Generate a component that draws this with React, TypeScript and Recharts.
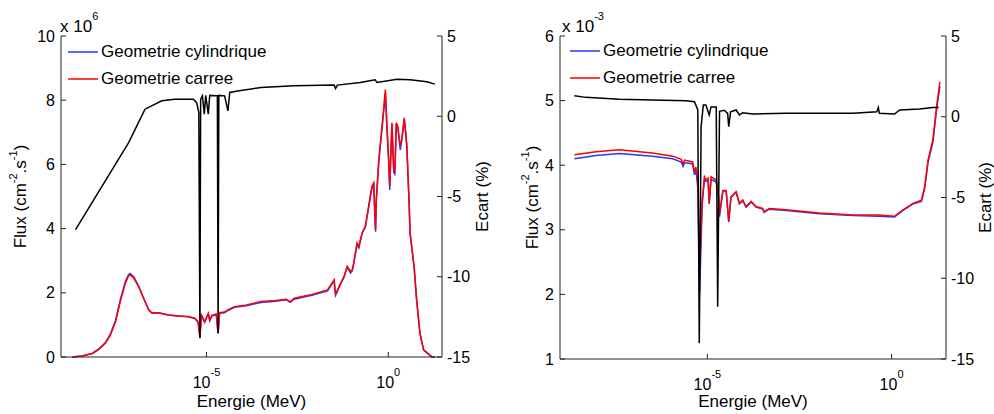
import { ComposedChart, Line, XAxis, YAxis, Legend } from "recharts";

const FONT = "'Liberation Sans', Arial, Helvetica, sans-serif";

// energies are stored as log10(E / MeV)
// left panel : flux x 1e6
const leftFluxE = [
	-8.69, -8.42, -8.14, -7.96, -7.78, -7.64, -7.5, -7.37, -7.23, -7.14, -7.1, -7.0, -6.87, -6.73,
	-6.59, -6.5, -6.32, -6.05, -5.77, -5.5, -5.32, -5.23, -5.18, -5.14, -5.05, -4.95, -4.91, -4.85,
	-4.73, -4.68, -4.64, -4.5, -4.41, -4.23, -3.9, -3.5, -3.1, -2.8, -2.7, -2.59, -2.1, -1.67,
	-1.49, -1.45, -1.31, -1.22, -1.13, -1.04, -0.99, -0.95, -0.86, -0.81, -0.72, -0.63, -0.54, -0.49,
	-0.45, -0.4, -0.37, -0.35, -0.33, -0.26, -0.17, -0.08, -0.04, 0.01, 0.04, 0.08, 0.1, 0.15,
	0.18, 0.22, 0.26, 0.33, 0.37, 0.44, 0.48, 0.51, 0.57, 0.6, 0.71, 0.78, 0.87, 0.97,
	1.19, 1.28,
];
const leftCarree = [
	0, 0.03, 0.11, 0.24, 0.43, 0.69, 1.1, 1.73, 2.3, 2.53, 2.56, 2.46, 2.2, 1.83,
	1.47, 1.37, 1.38, 1.31, 1.28, 1.26, 1.21, 1.1, 0.63, 1.31, 1.1, 1.36, 1.15, 1.3,
	1.34, 0.75, 1.38, 1.4, 1.47, 1.57, 1.62, 1.73, 1.76, 1.8, 1.72, 1.83, 1.95, 2.09,
	2.4, 1.95, 2.3, 2.5, 2.82, 2.67, 2.72, 2.93, 3.55, 3.45, 3.87, 4.07, 4.7, 5.06,
	5.32, 5.43, 4.49, 3.97, 4.91, 6.16, 7.2, 8.33, 7.3, 6.16, 5.32, 6.66, 7.3, 5.84,
	5.74, 7.3, 7.19, 6.57, 6.78, 7.45, 6.98, 6.57, 4.9, 3.86, 2.82, 1.78, 0.74, 0.22,
	0.01, 0,
];
const leftCyl = [
	0, 0.03, 0.11, 0.25, 0.45, 0.72, 1.14, 1.78, 2.35, 2.57, 2.6, 2.5, 2.22, 1.84,
	1.47, 1.37, 1.38, 1.31, 1.28, 1.25, 1.2, 1.08, 0.6, 1.3, 1.08, 1.35, 1.13, 1.28,
	1.32, 0.73, 1.36, 1.38, 1.45, 1.55, 1.6, 1.7, 1.74, 1.78, 1.7, 1.8, 1.92, 2.06,
	2.38, 1.92, 2.28, 2.48, 2.8, 2.62, 2.68, 2.9, 3.5, 3.4, 3.85, 4.05, 4.65, 5.0,
	5.25, 5.35, 4.4, 3.9, 4.85, 6.1, 7.15, 8.2, 7.2, 6.1, 5.2, 6.6, 7.25, 5.75,
	5.7, 7.25, 7.15, 6.45, 6.75, 7.4, 6.95, 6.55, 4.88, 3.84, 2.8, 1.77, 0.74, 0.22,
	0.01, 0,
];
const leftEcartE = [
	-8.6, -7.87, -7.14, -6.69, -6.23, -5.87, -5.36, -5.27, -5.21, -5.18, -5.16, -5.11, -5.06, -5.02,
	-4.95, -4.91, -4.73, -4.7, -4.68, -4.66, -4.5, -4.41, -4.36, -4.14, -3.5, -2.59, -1.49, -1.45,
	-1.4, -0.77, -0.36, -0.31, 0.24, 0.6, 1.06, 1.28,
];
const leftEcart = [
	-7.06, -4.36, -1.64, 0.44, 0.96, 1.06, 1.06, 0.85, 0.23, -13.83, 1.06, 1.27, 0.13, 1.3,
	0.13, 1.3, 1.27, 1.27, -13.5, 1.3, 1.27, 0.33, 1.48, 1.58, 1.79, 1.9, 1.94, 1.73,
	1.94, 2.1, 2.27, 2.1, 2.31, 2.27, 2.15, 2.0,
];

// right panel : flux x 1e-3
const rightFluxE = [
	-8.61, -8.02, -7.39, -6.49, -5.94, -5.71, -5.66, -5.62, -5.4, -5.35, -5.31, -5.26, -5.21, -5.14,
	-5.08, -5.04, -4.98, -4.95, -4.9, -4.76, -4.7, -4.67, -4.58, -4.49, -4.42, -4.36, -4.22, -4.13,
	-4.04, -3.95, -3.81, -3.68, -3.5, -3.46, -3.32, -2.86, -1.96, -1.05, -0.37, 0.08, 0.31, 0.58,
	0.81, 0.9, 0.99, 1.12, 1.22, 1.31,
];
const rightCarree = [
	4.16, 4.21, 4.24, 4.19, 4.14, 4.09, 4.02, 4.08, 4.05, 3.9, 3.97, 3.77, 2.41, 3.46,
	3.82, 3.77, 3.8, 3.41, 3.82, 3.77, 3.56, 3.25, 3.61, 3.61, 3.13, 3.51, 3.59, 3.41,
	3.46, 3.36, 3.44, 3.36, 3.33, 3.28, 3.33, 3.31, 3.26, 3.23, 3.23, 3.21, 3.31, 3.41,
	3.46, 3.67, 4.08, 4.39, 4.9, 5.29,
];
const rightCyl = [
	4.1, 4.15, 4.18, 4.14, 4.1, 4.05, 3.98, 4.04, 4.02, 3.85, 3.93, 3.65, 2.02, 3.4,
	3.78, 3.75, 3.76, 3.4, 3.78, 3.74, 3.5, 3.2, 3.6, 3.6, 3.12, 3.5, 3.58, 3.4,
	3.45, 3.35, 3.43, 3.35, 3.32, 3.27, 3.32, 3.3, 3.25, 3.22, 3.21, 3.2, 3.3, 3.4,
	3.44, 3.65, 4.05, 4.35, 4.85, 5.22,
];
const rightEcartE = [
	-8.61, -8.3, -7.39, -6.49, -5.58, -5.35, -5.26, -5.22, -5.17, -5.11, -5.04, -4.95, -4.9, -4.76,
	-4.72, -4.67, -4.54, -4.45, -4.42, -4.37, -4.22, -4.13, -4.04, -3.77, -2.86, -1.05, -0.4, -0.36,
	-0.33, 0.08, 0.22, 0.76, 1.12, 1.28,
];
const rightEcart = [
	1.3, 1.2, 1.08, 1.04, 0.99, 0.93, 0.42, -14.03, -0.61, 0.73, 0.73, 0.11, 0.61, 0.61,
	-11.76, 0.34, 0.4, 0.21, -0.61, 0.3, 0.42, 0.11, 0.25, 0.17, 0.21, 0.21, 0.31, 0.58,
	0.21, 0.17, 0.42, 0.48, 0.58, 0.58,
];

const legendNames = ["Geometrie cylindrique", "Geometrie carree"];
const xTicks = [-5, 0];
const ecartTicks = [-15, -10, -5, 0, 5];
const leftFluxTicks = [0, 2, 4, 6, 8, 10];
const rightFluxTicks = [1, 2, 3, 4, 5, 6];

const toPoints = (xs: number[], ys: number[]) => xs.map((x, i) => ({ x, y: ys[i] }));

const PowTick = (props: any) => {
	const { x, y, payload } = props;
	return (
		<text x={x} y={y} textAnchor="middle" fontSize={16} fontFamily={FONT} fill="#000">
			10
			<tspan dy={-12} fontSize={11}>
				{String(payload.value)}
			</tspan>
		</text>
	);
};

const renderLegend = (props: any) => {
	const items = (props.payload || []).filter((e: any) => legendNames.includes(e.value));
	items.sort((a: any, b: any) => legendNames.indexOf(a.value) - legendNames.indexOf(b.value));
	return (
		<div style={{ fontFamily: FONT, fontSize: 17, color: "#000" }}>
			{items.map((entry: any) => (
				<div key={entry.value} style={{ display: "flex", alignItems: "center", height: 27 }}>
					<svg width={30} height={4}>
						<line x1={0} y1={2} x2={30} y2={2} stroke={entry.color} strokeWidth={1.5} />
					</svg>
					<span style={{ marginLeft: 3, whiteSpace: "nowrap" }}>{entry.value}</span>
				</div>
			))}
		</div>
	);
};

type PanelProps = {
	fluxE: number[];
	cyl: number[];
	carree: number[];
	ecartE: number[];
	ecart: number[];
	fluxDomain: [number, number];
	fluxTicks: number[];
	exponent: string;
	width: number;
	leftW: number;
	rightW: number;
	plotTop: number;
	plotBottom: number;
	fluxLabelX: number;
	ecartLabelX: number;
	multX: number;
	legendLeft: number;
	legendTop: number;
};

const Panel = (p: PanelProps) => {
	const H = 414;
	const midY = (p.plotTop + p.plotBottom) / 2;
	const midX = (p.leftW + p.width - p.rightW) / 2;
	const tickStyle = { fill: "#000", fontSize: 16, fontFamily: FONT };

	const fluxLabel = () => (
		<g>
			<text
				x={p.fluxLabelX}
				y={midY}
				transform={`rotate(-90 ${p.fluxLabelX} ${midY})`}
				textAnchor="middle"
				dominantBaseline="central"
				fontSize={17}
				fontFamily={FONT}
				fill="#000"
			>
				Flux (cm
				<tspan dy={-7} fontSize={11}>
					-2
				</tspan>
				<tspan dy={7}>.s</tspan>
				<tspan dy={-7} fontSize={11}>
					-1
				</tspan>
				<tspan dy={7}>)</tspan>
			</text>
			<text x={p.multX} y={32} fontSize={17} fontFamily={FONT} fill="#000">
				x 10
				<tspan dy={-12} fontSize={11}>
					{p.exponent}
				</tspan>
			</text>
		</g>
	);

	const ecartLabel = () => (
		<text
			x={p.ecartLabelX}
			y={midY}
			transform={`rotate(-90 ${p.ecartLabelX} ${midY})`}
			textAnchor="middle"
			dominantBaseline="central"
			fontSize={17}
			fontFamily={FONT}
			fill="#000"
		>
			Ecart (%)
		</text>
	);

	const energieLabel = () => (
		<text x={midX} y={407} textAnchor="middle" fontSize={17} fontFamily={FONT} fill="#000">
			Energie (MeV)
		</text>
	);

	return (
		<ComposedChart width={p.width} height={H} margin={{ top: p.plotTop, right: 0, bottom: 0, left: 0 }}>
			<XAxis
				type="number"
				dataKey="x"
				domain={[-9, 1.477]}
				allowDataOverflow
				ticks={xTicks}
				interval={0}
				height={H - p.plotBottom}
				tick={<PowTick />}
				tickSize={-5}
				tickMargin={36}
				stroke="#222"
				label={energieLabel}
			/>
			<YAxis
				yAxisId="l"
				orientation="left"
				type="number"
				domain={p.fluxDomain}
				ticks={p.fluxTicks}
				interval={0}
				width={p.leftW}
				tick={tickStyle}
				tickSize={-5}
				tickMargin={11}
				stroke="#222"
				label={fluxLabel}
			/>
			<YAxis
				yAxisId="r"
				orientation="right"
				type="number"
				domain={[-15, 5]}
				ticks={ecartTicks}
				interval={0}
				width={p.rightW}
				tick={tickStyle}
				tickSize={-5}
				tickMargin={10}
				stroke="#222"
				label={ecartLabel}
			/>
			<Legend
				layout="vertical"
				align="center"
				verticalAlign="middle"
				content={renderLegend}
				wrapperStyle={{ left: p.legendLeft, top: p.legendTop, width: "auto" }}
			/>
			<Line
				yAxisId="l"
				data={toPoints(p.fluxE, p.cyl)}
				dataKey="y"
				name="Geometrie cylindrique"
				stroke="#1f3cff"
				strokeWidth={1.5}
				dot={false}
				type="linear"
				isAnimationActive={false}
			/>
			<Line
				yAxisId="l"
				data={toPoints(p.fluxE, p.carree)}
				dataKey="y"
				name="Geometrie carree"
				stroke="#ff0000"
				strokeWidth={1.5}
				dot={false}
				type="linear"
				isAnimationActive={false}
			/>
			<Line
				yAxisId="r"
				data={toPoints(p.ecartE, p.ecart)}
				dataKey="y"
				name="Ecart"
				legendType="none"
				stroke="#000"
				strokeWidth={1.5}
				dot={false}
				type="linear"
				isAnimationActive={false}
			/>
		</ComposedChart>
	);
};

const App = () => {
	return (
		<div style={{ position: "absolute", left: 0, top: 0, width: 994, height: 414, background: "#fff" }}>
			<div style={{ position: "absolute", left: 0, top: 0 }}>
				<Panel
					fluxE={leftFluxE}
					cyl={leftCyl}
					carree={leftCarree}
					ecartE={leftEcartE}
					ecart={leftEcart}
					fluxDomain={[0, 10]}
					fluxTicks={leftFluxTicks}
					exponent="6"
					width={500}
					leftW={61}
					rightW={58}
					plotTop={36}
					plotBottom={357}
					fluxLabelX={20}
					ecartLabelX={482}
					multX={60}
					legendLeft={68}
					legendTop={38}
				/>
			</div>
			<div style={{ position: "absolute", left: 500, top: 0 }}>
				<Panel
					fluxE={rightFluxE}
					cyl={rightCyl}
					carree={rightCarree}
					ecartE={rightEcartE}
					ecart={rightEcart}
					fluxDomain={[1, 6]}
					fluxTicks={rightFluxTicks}
					exponent="-3"
					width={494}
					leftW={60}
					rightW={48}
					plotTop={36}
					plotBottom={359}
					fluxLabelX={32}
					ecartLabelX={485}
					multX={62}
					legendLeft={70}
					legendTop={37}
				/>
			</div>
		</div>
	);
};

export default App;
